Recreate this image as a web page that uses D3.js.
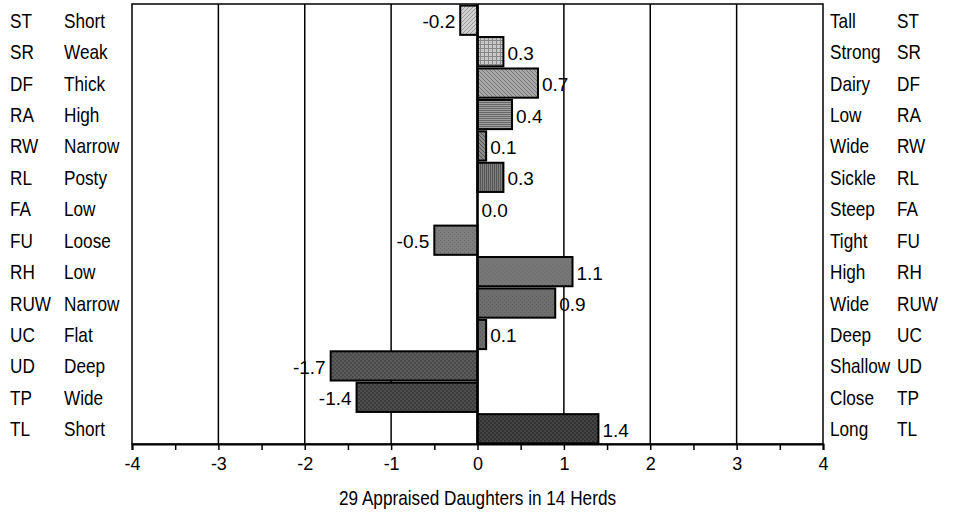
<!DOCTYPE html>
<html><head><meta charset="utf-8">
<script src="https://cdn.jsdelivr.net/npm/d3@7"></script>
<style>body{margin:0;background:#fff}svg{display:block}</style>
</head><body>
<script>
const codes = ["ST","SR","DF","RA","RW","RL","FA","FU","RH","RUW","UC","UD","TP","TL"];
const lowLabels = ["Short","Weak","Thick","High","Narrow","Posty","Low","Loose","Low","Narrow","Flat","Deep","Wide","Short"];
const highLabels = ["Tall","Strong","Dairy","Low","Wide","Sickle","Steep","Tight","High","Wide","Deep","Shallow","Close","Long"];
const values = [-0.2,0.3,0.7,0.4,0.1,0.3,0.0,-0.5,1.1,0.9,0.1,-1.7,-1.4,1.4];
const ticks = [-4,-3,-2,-1,0,1,2,3,4];
const title = "29 Appraised Daughters in 14 Herds";

const W=956,H=512;
const svg=d3.select("body").append("svg").attr("width",W).attr("height",H);
const x=d3.scaleLinear().domain([-4,4]).range([132,823]);
const y=d3.scaleBand().domain(codes).range([5,444]).paddingInner(0.07).paddingOuter(0.02);

// patterns
const defs=svg.append("defs");
const pats=[
 {bg:"#d0d0d0",type:"diag",fg:"#999"},
 {bg:"#c8c8c8",type:"grid",fg:"#888"},
 {bg:"#a8a8a8",type:"diag2",fg:"#777"},
 {bg:"#a0a0a0",type:"hor",fg:"#666"},
 {bg:"#8a8a8a",type:"diag2",fg:"#555"},
 {bg:"#808080",type:"vert",fg:"#555"},
 {bg:"#808080",type:"dots",fg:"#666"},
 {bg:"#7e7e7e",type:"dots",fg:"#6a6a6a"},
 {bg:"#777",type:"dots",fg:"#6a6a6a"},
 {bg:"#6e6e6e",type:"dots",fg:"#5e5e5e"},
 {bg:"#6a6a6a",type:"dots",fg:"#555"},
 {bg:"#5c5c5c",type:"check",fg:"#4a4a4a"},
 {bg:"#4e4e4e",type:"check",fg:"#3c3c3c"},
 {bg:"#454545",type:"check",fg:"#333"}
];
pats.forEach((p,i)=>{
  const pt=defs.append("pattern").attr("id","p"+i).attr("patternUnits","userSpaceOnUse")
    .attr("width",4).attr("height",4);
  pt.append("rect").attr("width",4).attr("height",4).attr("fill",p.bg);
  if(p.type==="diag"){pt.append("path").attr("d","M0,4L4,0M-1,1L1,-1M3,5L5,3").attr("stroke",p.fg).attr("stroke-width",1);}
  else if(p.type==="diag2"){pt.append("path").attr("d","M0,0L4,4M-1,3L1,5M3,-1L5,1").attr("stroke",p.fg).attr("stroke-width",1);}
  else if(p.type==="grid"){pt.append("path").attr("d","M0,0.5H4M0.5,0V4").attr("stroke",p.fg).attr("stroke-width",1);}
  else if(p.type==="hor"){pt.append("path").attr("d","M0,0.5H4M0,2.5H4").attr("stroke",p.fg).attr("stroke-width",1);}
  else if(p.type==="vert"){pt.append("path").attr("d","M0.5,0V4M2.5,0V4").attr("stroke",p.fg).attr("stroke-width",1);}
  else if(p.type==="dots"){pt.append("rect").attr("x",0).attr("y",0).attr("width",1).attr("height",1).attr("fill",p.fg);
    pt.append("rect").attr("x",2).attr("y",2).attr("width",1).attr("height",1).attr("fill",p.fg);}
  else if(p.type==="check"){pt.append("rect").attr("width",2).attr("height",2).attr("fill",p.fg);
    pt.append("rect").attr("x",2).attr("y",2).attr("width",2).attr("height",2).attr("fill",p.fg);}
});

// gridlines
svg.append("g").selectAll("line").data(ticks.slice(1,-1)).join("line")
  .attr("x1",d=>x(d)).attr("x2",d=>x(d)).attr("y1",4).attr("y2",444)
  .attr("stroke","#000").attr("stroke-width",1.5);
// box
svg.append("rect").attr("x",x(-4)).attr("y",4).attr("width",x(4)-x(-4)).attr("height",440)
  .attr("fill","none").attr("stroke","#000").attr("stroke-width",1.5);

// bars
svg.append("g").selectAll("rect").data(codes).join("rect")
  .attr("x",(d,i)=>x(Math.min(0,values[i])))
  .attr("y",d=>y(d))
  .attr("width",(d,i)=>Math.abs(x(values[i])-x(0)))
  .attr("height",y.bandwidth())
  .attr("fill",(d,i)=>"url(#p"+i+")")
  .attr("stroke","#000").attr("stroke-width",(d,i)=>values[i]===0?0:2);

// zero line
svg.append("line").attr("x1",x(0)).attr("x2",x(0)).attr("y1",4).attr("y2",444).attr("stroke","#000").attr("stroke-width",2.5);

const sf="Liberation Sans, Arial, sans-serif";
// value labels
svg.append("g").selectAll("text").data(codes).join("text")
  .attr("x",(d,i)=>values[i]<0?x(values[i])-5:x(values[i])+4)
  .attr("y",d=>y(d)+y.bandwidth()/2+8)
  .attr("text-anchor",(d,i)=>values[i]<0?"end":"start")
  .attr("font-family",sf).attr("font-size",19)
  .text((d,i)=>values[i].toFixed(1));

// axis
const ax=d3.axisBottom(x).tickValues(d3.range(-4,4.01,0.5)).tickSize(6).tickPadding(5);
const g=svg.append("g").attr("transform","translate(0,444)").call(ax);
g.select(".domain").attr("stroke","#000").attr("stroke-width",2);
g.selectAll(".tick line").attr("stroke","#000").attr("stroke-width",1.5);
g.selectAll(".tick text").attr("font-family",sf).attr("font-size",18).attr("fill","#000").attr("dy","0.85em")
  .text(d=>Number.isInteger(d)?(d<0?"-"+(-d):String(d)):"");

// side labels (narrow font emulated with horizontal scaling)
const side=(arr,xx)=>svg.append("g").selectAll("text").data(arr).join("text")
  .attr("transform",(d,i)=>`translate(${xx},${y(codes[i])+y.bandwidth()/2+7.5}) scale(0.86,1)`)
  .attr("font-family",sf).attr("font-size",20).text(d=>d);
side(codes,10); side(lowLabels,64); side(highLabels,830); side(codes,897);

svg.append("text").attr("transform",`translate(${x(0)},505) scale(0.86,1)`).attr("text-anchor","middle")
  .attr("font-family",sf).attr("font-size",20).text(title);
</script>
</body></html>
